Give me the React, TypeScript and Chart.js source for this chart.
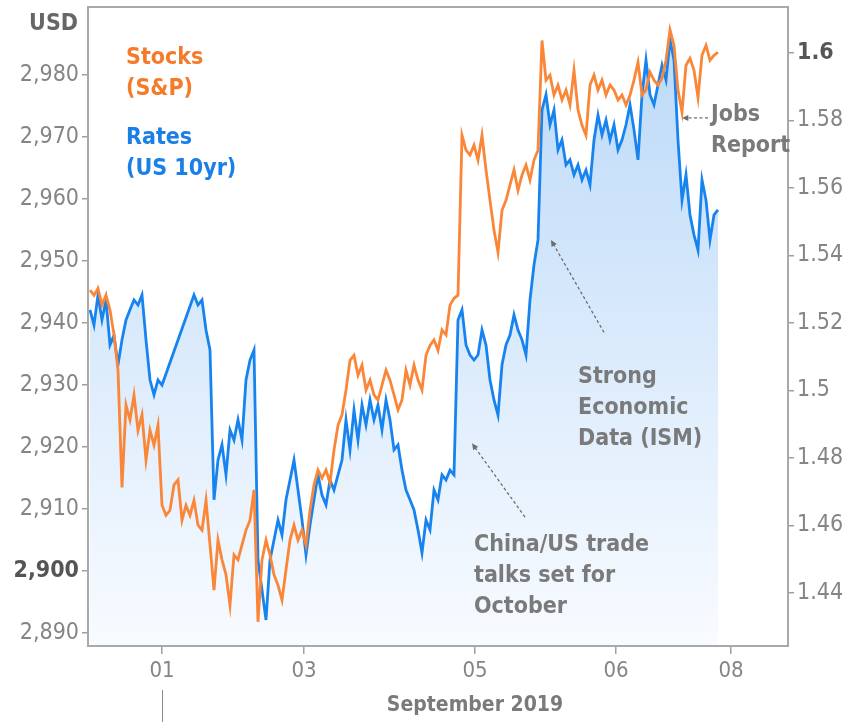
import React, { useEffect, useRef } from "react";
import { Chart, registerables } from "chart.js";

Chart.register(...registerables);

// S&P 500 (left axis, USD), sampled along the trading timeline
const stocksSP: number[] = [
  2945.3, 2944.5, 2945.6, 2942.9, 2944.5, 2942.1, 2938.1, 2932.4, 2913.5, 2926.8,
  2924.4, 2928.4, 2922.7, 2925.2, 2917.9, 2922.7, 2920.3, 2923.5, 2910.6, 2909.0,
  2909.8, 2913.9, 2914.7, 2908.2, 2910.6, 2909.0, 2911.4, 2907.4, 2906.6, 2911.4,
  2904.2, 2896.9, 2905.0, 2901.8, 2899.4, 2894.5, 2902.6, 2901.8, 2904.2, 2906.6,
  2908.2, 2913.1, 2891.8, 2901.8, 2905.0, 2902.6, 2899.4, 2897.7, 2895.3, 2900.2,
  2905.0, 2907.4, 2905.0, 2906.6, 2904.2, 2909.8, 2913.9, 2916.3, 2915.0, 2916.3,
  2914.2, 2919.5, 2923.5, 2925.2, 2929.2, 2934.0, 2934.8, 2931.6, 2933.2, 2929.2,
  2930.8, 2928.4, 2927.6, 2930.0, 2932.4, 2930.8, 2928.4, 2926.0, 2927.6, 2932.4,
  2930.0, 2933.2, 2930.8, 2929.2, 2934.8, 2936.4, 2937.3, 2935.6, 2938.9, 2938.1,
  2942.9, 2944.0, 2944.5, 2970.3, 2967.9, 2967.1, 2968.7, 2966.3, 2970.3, 2964.7,
  2959.8, 2955.0, 2951.4, 2958.2, 2959.8, 2962.3, 2964.7, 2961.4, 2963.9, 2965.5,
  2963.1, 2966.3, 2967.9, 2985.6, 2979.2, 2980.0, 2976.8, 2978.4, 2976.0, 2977.6,
  2975.2, 2980.8, 2974.4, 2971.9, 2970.3, 2978.4, 2980.0, 2977.6, 2979.2, 2976.8,
  2978.4, 2977.6, 2976.0, 2976.8, 2975.2, 2976.8, 2979.2, 2982.1, 2976.8, 2977.6,
  2980.5, 2979.2, 2978.4, 2979.5, 2982.4, 2987.3, 2984.8, 2977.6, 2974.0, 2981.6,
  2982.7, 2980.8, 2976.4, 2983.2, 2984.8, 2982.4, 2983.2, 2983.7,
];

// US 10yr yield (right axis); null = market closed (line spans the gap)
const ratesUS10: (number | null)[] = [
  1.5239, 1.5194, 1.5283, 1.5209, 1.5268, 1.5135, 1.5164, 1.5076, 1.5150, 1.5209,
  1.5239, 1.5268, 1.5253, 1.5283, 1.5150, 1.5031, 1.4987, 1.5031, 1.5016, null,
  null, null, null, null, null, null, 1.5283, 1.5253, 1.5268, 1.5179,
  1.5120, 1.4676, 1.4794, 1.4839, 1.4750, 1.4883, 1.4853, 1.4913, 1.4853, 1.5031,
  1.5090, 1.5120, 1.4498, 1.4409, 1.4320, 1.4498, 1.4557, 1.4616, 1.4572, 1.4676,
  1.4735, 1.4794, 1.4705, 1.4616, 1.4513, 1.4601, 1.4676, 1.4750, 1.4690, 1.4661,
  1.4735, 1.4705, 1.4750, 1.4794, 1.4913, 1.4824, 1.4942, 1.4853, 1.4957, 1.4898,
  1.4972, 1.4913, 1.4957, 1.4883, 1.4972, 1.4913, 1.4824, 1.4839, 1.4764, 1.4705,
  1.4676, 1.4646, 1.4587, 1.4519, 1.4616, 1.4587, 1.4705, 1.4676, 1.4750, 1.4735,
  1.4764, 1.4750, 1.5209, 1.5239, 1.5135, 1.5105, 1.5090, 1.5105, 1.5179, 1.5135,
  1.5031, 1.4972, 1.4927, 1.5076, 1.5135, 1.5164, 1.5224, 1.5179, 1.5150, 1.5105,
  1.5268, 1.5372, 1.5446, 1.5831, 1.5876, 1.5787, 1.5831, 1.5713, 1.5742, 1.5668,
  1.5683, 1.5639, 1.5668, 1.5624, 1.5653, 1.5609, 1.5742, 1.5816, 1.5757, 1.5801,
  1.5742, 1.5787, 1.5713, 1.5742, 1.5787, 1.5846, 1.5772, 1.5683, 1.5876, 1.5979,
  1.5876, 1.5846, 1.5905, 1.5964, 1.5920, 1.6039, 1.5979, 1.5742, 1.5564, 1.5639,
  1.5520, 1.5461, 1.5416, 1.5624, 1.5564, 1.5446, 1.5520, 1.5535,
];

const xTickPositions = [18, 53.5, 96.25, 131.5, 160.25];
const xTickLabels = ["01", "03", "05", "06", "08"];
const stockTicks = [2890, 2900, 2910, 2920, 2930, 2940, 2950, 2960, 2970, 2980];
const rateTicks = [1.44, 1.46, 1.48, 1.5, 1.52, 1.54, 1.56, 1.58, 1.6];
const boldStockTick = 2900;
const boldRateTick = 1.6;
const xAxisTitle = "September 2019";
const leftUnit = "USD";

const notes = [
  { lines: ["Stocks", "(S&P)"], x: 9, y: 2982.7, color: "#f47b2a" },
  { lines: ["Rates", "(US 10yr)"], x: 9, y: 2969.8, color: "#1a7fe6" },
  { lines: ["Jobs", "Report"], x: 155.25, y: 2973.5, color: "#7a7a7a" },
  { lines: ["Strong", "Economic", "Data (ISM)"], x: 122, y: 2931.3, color: "#7a7a7a" },
  { lines: ["China/US trade", "talks set for", "October"], x: 96, y: 2904.2, color: "#7a7a7a" },
];

const arrows = [
  { from: [154.5, 2973.1], to: [148, 2973.1] },
  { from: [128.5, 2938.5], to: [115.25, 2953.4] },
  { from: [108.75, 2908.7], to: [95.5, 2920.6] },
];

const FONT = "'DejaVu Sans Condensed', 'DejaVu Sans', sans-serif";

const fmtStock = (v: number) =>
  Math.round(v).toString().replace(/\B(?=(\d{3})+(?!\d))/g, ",");
const fmtRate = (v: number) => String(Number(v.toFixed(2)));

const zeroPad = (s: any) => {
  s.paddingTop = 0;
  s.paddingBottom = 0;
  s.paddingLeft = 0;
  s.paddingRight = 0;
};

const decorPlugin = {
  id: "decor",
  afterDatasetsDraw(chart: any) {
    const { ctx, chartArea, scales } = chart;
    const xs = scales.x;
    const ys = scales.y;
    ctx.save();
    // box border
    ctx.strokeStyle = "#a9a9a9";
    ctx.lineWidth = 2;
    ctx.strokeRect(chartArea.left, chartArea.top, chartArea.right - chartArea.left, chartArea.bottom - chartArea.top);

    // notes
    ctx.textBaseline = "middle";
    ctx.textAlign = "left";
    ctx.font = `bold 23px ${FONT}`;
    notes.forEach((n) => {
      ctx.fillStyle = n.color;
      const px = xs.getPixelForValue(n.x);
      const py = ys.getPixelForValue(n.y);
      n.lines.forEach((l, j) => ctx.fillText(l, px, py + j * 31));
    });

    // arrows
    arrows.forEach((a) => {
      const x1 = xs.getPixelForValue(a.from[0]);
      const y1 = ys.getPixelForValue(a.from[1]);
      const x2 = xs.getPixelForValue(a.to[0]);
      const y2 = ys.getPixelForValue(a.to[1]);
      const ang = Math.atan2(y2 - y1, x2 - x1);
      ctx.strokeStyle = "#6e6e6e";
      ctx.fillStyle = "#6e6e6e";
      ctx.lineWidth = 1.3;
      ctx.setLineDash([3, 2.5]);
      ctx.beginPath();
      ctx.moveTo(x1, y1);
      ctx.lineTo(x2 - Math.cos(ang) * 4, y2 - Math.sin(ang) * 4);
      ctx.stroke();
      ctx.setLineDash([]);
      const h = 7;
      ctx.beginPath();
      ctx.moveTo(x2, y2);
      ctx.lineTo(x2 - h * Math.cos(ang - 0.45), y2 - h * Math.sin(ang - 0.45));
      ctx.lineTo(x2 - h * Math.cos(ang + 0.45), y2 - h * Math.sin(ang + 0.45));
      ctx.closePath();
      ctx.fill();
    });

    // unit label
    ctx.font = `bold 23px ${FONT}`;
    ctx.fillStyle = "#666666";
    ctx.textAlign = "right";
    ctx.fillText(leftUnit, chartArea.left - 10, 24);

    // x-axis title
    ctx.font = `bold 21px ${FONT}`;
    ctx.fillStyle = "#7a7a7a";
    ctx.textAlign = "center";
    ctx.fillText(xAxisTitle, xs.getPixelForValue(xTickPositions[2]), chartArea.bottom + 60);

    // month separator
    const sx = Math.round(xs.getPixelForValue(xTickPositions[0])) + 0.5;
    ctx.strokeStyle = "#8a8a8a";
    ctx.lineWidth = 1;
    ctx.beginPath();
    ctx.moveTo(sx, chartArea.bottom + 44);
    ctx.lineTo(sx, chart.height);
    ctx.stroke();
    ctx.restore();
  },
};

export default function App() {
  const ref = useRef<HTMLCanvasElement | null>(null);

  useEffect(() => {
    document.body.style.margin = "0";
    if (!ref.current) return;
    const chart = new Chart(ref.current, {
      type: "line",
      data: {
        datasets: [
          {
            label: "Stocks (S&P)",
            data: stocksSP.map((v, i) => ({ x: i, y: v })),
            yAxisID: "y",
            borderColor: "#fa8638",
            borderWidth: 2.8,
            pointRadius: 0,
            tension: 0,
            fill: false,
            order: 0,
          },
          {
            label: "Rates (US 10yr)",
            data: ratesUS10.map((v, i) => ({ x: i, y: v })),
            yAxisID: "y1",
            borderColor: "#1783ee",
            borderWidth: 2.8,
            pointRadius: 0,
            tension: 0,
            spanGaps: true,
            fill: "start",
            backgroundColor: (c: any) => {
              const { chart: ch } = c;
              const area = ch.chartArea;
              if (!area) return "rgba(190,218,248,0.5)";
              const g = ch.ctx.createLinearGradient(0, area.top, 0, area.bottom);
              g.addColorStop(0, "#b9d8f8");
              g.addColorStop(1, "#f8fbff");
              return g;
            },
            order: 1,
          },
        ],
      },
      options: {
        animation: false,
        responsive: true,
        maintainAspectRatio: false,
        layout: { padding: { top: 7, left: 0, right: 0, bottom: 0 } },
        plugins: { legend: { display: false }, tooltip: { enabled: false } },
        scales: {
          x: {
            type: "linear",
            min: -0.5,
            max: 174.5,
            afterBuildTicks: (s: any) => {
              s.ticks = xTickPositions.map((v) => ({ value: v }));
            },
            afterFit: (s: any) => {
              s.height = 76;
              zeroPad(s);
            },
            border: { display: false },
            grid: { drawOnChartArea: false, drawTicks: true, tickLength: 8, color: "#a0a0a0", lineWidth: 1.5 },
            ticks: {
              autoSkip: false,
              maxRotation: 0,
              padding: 4,
              color: "#858585",
              font: { family: FONT, size: 22 },
              callback: (_v: any, i: number) => xTickLabels[i],
            },
          },
          y: {
            position: "left",
            min: 2887.9,
            max: 2991,
            afterBuildTicks: (s: any) => {
              s.ticks = stockTicks.map((v) => ({ value: v }));
            },
            afterFit: (s: any) => {
              s.width = 88;
              zeroPad(s);
            },
            border: { display: false },
            grid: { drawOnChartArea: false, drawTicks: true, tickLength: 6, color: "#a0a0a0", lineWidth: 1.5 },
            ticks: {
              padding: 3,
              color: (c: any) => (c.tick && c.tick.value === boldStockTick ? "#555555" : "#858585"),
              font: (c: any) => ({
                family: FONT,
                size: 23,
                weight: c.tick && c.tick.value === boldStockTick ? "bold" : "normal",
              }),
              callback: (v: any) => fmtStock(Number(v)),
            },
          },
          y1: {
            position: "right",
            min: 1.4243,
            max: 1.6136,
            afterBuildTicks: (s: any) => {
              s.ticks = rateTicks.map((v) => ({ value: v }));
            },
            afterFit: (s: any) => {
              s.width = 60;
              zeroPad(s);
            },
            border: { display: false },
            grid: { drawOnChartArea: false, drawTicks: true, tickLength: 6, color: "#a0a0a0", lineWidth: 1.5 },
            ticks: {
              padding: 3,
              color: (c: any) => (c.tick && Math.abs(c.tick.value - boldRateTick) < 1e-6 ? "#555555" : "#858585"),
              font: (c: any) => ({
                family: FONT,
                size: 23,
                weight: c.tick && Math.abs(c.tick.value - boldRateTick) < 1e-6 ? "bold" : "normal",
              }),
              callback: (v: any) => fmtRate(Number(v)),
            },
          },
        },
      },
      plugins: [decorPlugin],
    } as any);
    return () => chart.destroy();
  }, []);

  return (
    <div style={{ position: "relative", width: 848, height: 722 }}>
      <canvas ref={ref} />
    </div>
  );
}
